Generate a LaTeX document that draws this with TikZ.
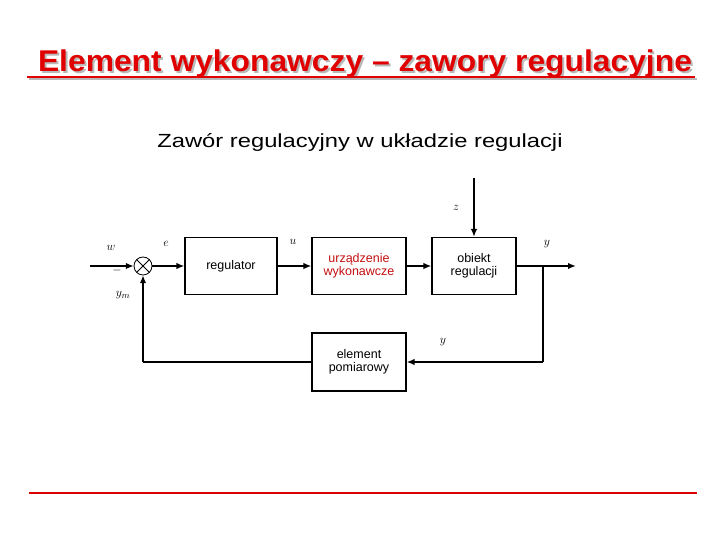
\documentclass[tikz,border=0pt]{standalone}
\usepackage{fontspec}
\setmainfont{Liberation Sans}
\usepackage{xcolor}
\usetikzlibrary{arrows.meta,positioning,calc}

\definecolor{titlered}{RGB}{225,0,0}
\definecolor{darkred}{RGB}{195,15,15}

\tikzset{
  blok/.style={draw, line width=1.1pt, minimum height=57pt, align=center, font=\fontsize{12.5}{13.5}\selectfont},
  sygnal/.style={line width=1.6pt, -{Latex[length=8pt,width=6.5pt]}},
  linia/.style={line width=1.4pt},
  etykieta/.style={font=\fontsize{13}{14}\selectfont}
}

\begin{document}
\begin{tikzpicture}[x=1pt, y=1pt]
    \useasboundingbox (0,0) rectangle (720,540);
    % title with shadow
    \node[gray!55, xscale=1.06] at (367, 474) {\fontsize{30}{33}\bfseries\selectfont Element wykonawczy -- zawory regulacyjne};
    \draw[gray!55, line width=2.5pt] (29, 461) -- (697, 461);
    \node[titlered, xscale=1.06] (tytul) at (365, 476) {\fontsize{30}{33}\bfseries\selectfont Element wykonawczy -- zawory regulacyjne};
    \draw[titlered, line width=2.5pt] (27, 463) -- (695, 463);
    \node[xscale=1.25] (podtytul) at (360, 398) {\fontsize{19}{22}\selectfont Zawór regulacyjny w układzie regulacji};

    % blocks
    \draw[thick] (143, 274) circle (9pt);
    \node[minimum size=18pt, inner sep=0pt, circle] (sum) at (143, 274) {};
    \draw[thick] ($(sum)+(-6.4,6.4)$) -- ($(sum)+(6.4,-6.4)$);
    \draw[thick] ($(sum)+(-6.4,-6.4)$) -- ($(sum)+(6.4,6.4)$);
    \node[blok, minimum width=92pt] (regulator) at (231, 274) {regulator};
    \node[blok, minimum width=94pt, text=darkred] (urzadzenie) at (359, 274) {urządzenie\\wykonawcze};
    \node[blok, minimum width=84pt] (obiekt) at (474, 274) {obiekt\\regulacji};
    \node[blok, minimum width=94pt, minimum height=58pt] (pomiar) at (359, 178) {element\\pomiarowy};

    \coordinate (wejscie) at (90, 274);
    \coordinate (zaklocenie) at (474, 362);
    \coordinate (wyjscie) at (576, 274);
    \coordinate (rozgalezienie) at (543, 274);
    \coordinate (dol) at (543, 178);
    \coordinate (lewo) at (143, 178);

    % connections
    \draw[sygnal] (wejscie) -- (sum);
    \draw[sygnal] (sum) -- (regulator);
    \draw[sygnal] (regulator) -- (urzadzenie);
    \draw[sygnal] (urzadzenie) -- (obiekt);
    \draw[sygnal] (zaklocenie) -- (obiekt);
    \draw[sygnal] (obiekt) -- (wyjscie);
    \draw[linia] (rozgalezienie) -- (dol);
    \draw[sygnal] (dol) -- (pomiar);
    \draw[linia] (pomiar) -- (lewo);
    \draw[sygnal] (lewo) -- (sum);

    % labels
    \node[etykieta] at (111, 292) {$w$};
    \node[etykieta] at (117, 269) {$-$};
    \node[etykieta] at (166, 296) {$e$};
    \node[etykieta] at (293, 298) {$u$};
    \node[etykieta] at (456, 332) {$z$};
    \node[etykieta] at (547, 296) {$y$};
    \node[etykieta] at (443, 198) {$y$};
    \node[etykieta] at (123, 245) {$y_m$};

    % bottom line
    \draw[red!85!black, line width=2pt] (29, 47) -- (697, 47);
\end{tikzpicture}
\end{document}
